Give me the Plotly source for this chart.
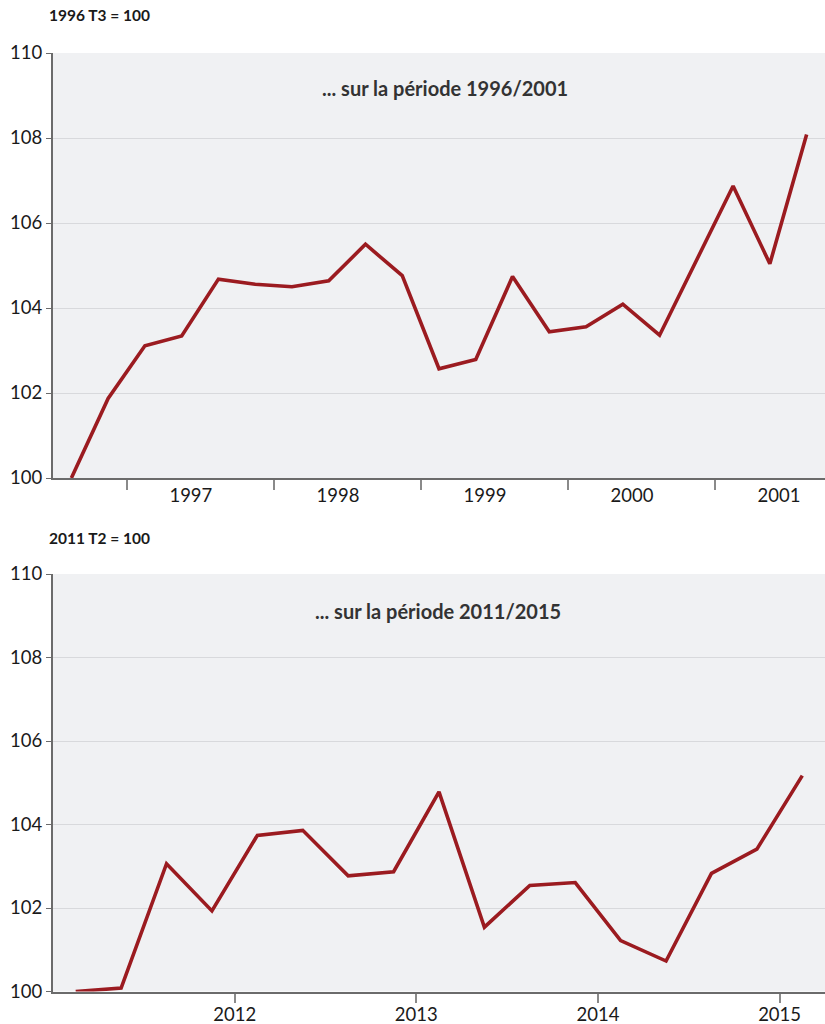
import plotly.graph_objects as go
from plotly.subplots import make_subplots

# ---- Data ----
# Panel 1: 1996 T3 -> 2001 T3 (quarterly), base 1996 T3 = 100
q1_index = list(range(21))
values_1996_2001 = [100.0, 101.87, 103.11, 103.34, 104.68, 104.56, 104.5, 104.64,
                    105.5, 104.76, 102.57, 102.79, 104.74, 103.44, 103.56, 104.09,
                    103.36, 105.1, 106.87, 105.04, 108.08]
years_1 = ["1997", "1998", "1999", "2000", "2001"]
year_label_pos_1 = [3.25, 7.25, 11.25, 15.25, 19.25]
year_tick_pos_1 = [1.5, 5.5, 9.5, 13.5, 17.5]

# Panel 2: 2011 T2 -> 2015 T2 (quarterly), base 2011 T2 = 100
q2_index = list(range(17))
values_2011_2015 = [100.0, 100.08, 103.06, 101.93, 103.74, 103.86, 102.77, 102.87,
                    104.78, 101.54, 102.54, 102.61, 101.22, 100.73, 102.83, 103.41,
                    105.17]
years_2 = ["2012", "2013", "2014", "2015"]
year_tick_pos_2 = [3.5, 7.5, 11.5, 15.5]

y_ticks = [100, 102, 104, 106, 108, 110]
y_grid = [102, 104, 106, 108]

LINE = "#9B1B20"
BG = "#F0F1F3"
GRID = "#D8D9DC"
AXIS = "#6B6B6B"
FONT = "Lato"
TXT = "#1a1a1a"

H = 1024
W_PLOT = 772

fig = make_subplots(rows=2, cols=1)

fig.add_trace(go.Scatter(x=q1_index, y=values_1996_2001, mode="lines",
                         line=dict(color=LINE, width=3.6), showlegend=False,
                         hoverinfo="y"), row=1, col=1)
fig.add_trace(go.Scatter(x=q2_index, y=values_2011_2015, mode="lines",
                         line=dict(color=LINE, width=3.6), showlegend=False,
                         hoverinfo="y"), row=2, col=1)

def ydom(top_px, bottom_px):
    return [1 - bottom_px / H, 1 - top_px / H]

yaxis_common = dict(range=[100, 110], tickvals=y_ticks, showgrid=False,
                    ticks="outside", ticklen=5, tickwidth=1, tickcolor=AXIS,
                    showline=True, linecolor=AXIS, linewidth=2, zeroline=False,
                    automargin=False,
                    tickfont=dict(family=FONT, size=18.5, color=TXT),
                    minor=dict(tickvals=y_grid, showgrid=True, gridcolor=GRID,
                               gridwidth=1, ticks=""),
                    fixedrange=True)

fig.update_layout(
    template="none",
    width=825, height=1024,
    margin=dict(l=53, r=0, t=0, b=0, pad=0),
    paper_bgcolor="white",
    plot_bgcolor=BG,
    font=dict(family=FONT, color=TXT),
    xaxis=dict(domain=[0, 1], range=[-0.5, 20.5], tickvals=year_label_pos_1,
               ticktext=years_1, ticks="", showgrid=False, zeroline=False,
               showline=True, linecolor=AXIS, linewidth=2, automargin=False,
               tickfont=dict(family=FONT, size=18.5, color=TXT),
               minor=dict(tickvals=year_tick_pos_1, ticks="outside", ticklen=10,
                          tickwidth=1.5, tickcolor="#8a8a8a", showgrid=False),
               fixedrange=True),
    xaxis2=dict(domain=[0, 1], range=[-0.5, 16.5], tickvals=year_tick_pos_2,
                ticktext=years_2, ticks="outside", ticklen=9, tickwidth=1.5,
                tickcolor="#8a8a8a", showgrid=False, zeroline=False,
                showline=True, linecolor=AXIS, linewidth=2, automargin=False,
                ticklabelstandoff=-4,
                tickfont=dict(family=FONT, size=18.5, color=TXT),
                fixedrange=True),
    yaxis=dict(domain=ydom(53, 478), **yaxis_common),
    yaxis2=dict(domain=ydom(574, 991.5), **yaxis_common),
)

annots = [
    dict(text="<b>1996 T3 = 100</b>", x=-6 / W_PLOT, y=1 - 15 / H,
         xanchor="left", yanchor="middle", font=dict(size=15.5)),
    dict(text="<b>2011 T2 = 100</b>", x=-6 / W_PLOT, y=1 - 538 / H,
         xanchor="left", yanchor="middle", font=dict(size=15.5)),
    dict(text="<b>... sur la période 1996/2001</b>", x=(445 - 53) / W_PLOT,
         y=1 - 88 / H, xanchor="center", yanchor="middle",
         font=dict(size=20, color="#333333")),
    dict(text="<b>... sur la période 2011/2015</b>", x=(438 - 53) / W_PLOT,
         y=1 - 611 / H, xanchor="center", yanchor="middle",
         font=dict(size=20, color="#333333")),
]
for a in annots:
    a.update(xref="paper", yref="paper", showarrow=False)
    a["font"].setdefault("color", TXT)
    a["font"]["family"] = FONT
fig.update_layout(annotations=annots)

fig.write_html(
    "out.html",
    config={"displayModeBar": False},
    post_script="document.body.style.margin='0';document.body.style.overflow='hidden';",
)
